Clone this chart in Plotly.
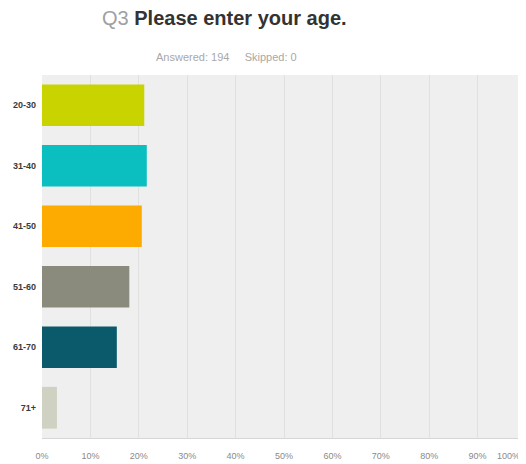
import plotly.graph_objects as go

categories = ["20-30", "31-40", "41-50", "51-60", "61-70", "71+"]
values = [21.13, 21.65, 20.62, 18.04, 15.46, 3.09]
colors = ["#c9d300", "#0bbfc1", "#fdab00", "#8a8b7c", "#0a5a6b", "#cfd2c2"]
tick_vals = [0, 10, 20, 30, 40, 50, 60, 70, 80, 90, 100]
tick_text = ["0%", "10%", "20%", "30%", "40%", "50%", "60%", "70%", "80%", "90%", ""]

FONT = "Liberation Sans, Arial, sans-serif"

# the page body has an 8px margin, so the figure is sized/offset to compensate
W, H = 518, 456
ML, MT, MB = 34, 67, 26

fig = go.Figure(go.Bar(
    x=values, y=categories, orientation="h",
    marker=dict(color=colors, line=dict(width=0)),
    width=0.69,
))

fig.update_layout(
    width=W, height=H,
    margin=dict(l=ML, r=0, t=MT, b=MB),
    paper_bgcolor="white",
    plot_bgcolor="#efefef",
    showlegend=False,
    font=dict(family=FONT),
    xaxis=dict(
        range=[0, 100], tickvals=tick_vals, ticktext=tick_text,
        showgrid=True, gridcolor="#e0e0e0", gridwidth=1,
        zeroline=False, showline=True, linecolor="#d6d6d6", linewidth=1,
        tickfont=dict(size=9, color="#8a8a8a"), ticks="",
        ticklabelstandoff=9, automargin=False, fixedrange=True,
    ),
    yaxis=dict(
        autorange="reversed", showgrid=False, zeroline=False,
        tickfont=dict(size=9, color="#3a3a3a", weight="bold"), ticks="",
        ticklabelstandoff=5, automargin=False,
    ),
    annotations=[
        dict(text="<span style='color:#a0a0a0;font-weight:normal'>Q3</span> <b>Please enter your age.</b>",
             x=0.378, y=10, xref="paper", yref="paper", showarrow=False,
             font=dict(size=20, color="#333333", family=FONT)),
        dict(text="Answered: 194&nbsp;&nbsp;&nbsp;&nbsp;&nbsp;Skipped: 0",
             x=0.382, y=49, xref="paper", yref="paper", showarrow=False,
             font=dict(size=11, color="#a8a8a8", family=FONT)),
        dict(text="100%", x=100, xref="x", xanchor="right", xshift=-4,
             y=0, yref="paper", yanchor="top", yshift=-11, showarrow=False,
             font=dict(size=9, color="#8a8a8a", family=FONT)),
    ],
)

# convert title annotation y positions from pixels to paper coordinates
plot_h = H - MT - MB
for ann, py in zip(fig.layout.annotations[:2], [10, 49]):
    ann.y = (H - MB - py) / plot_h
    ann.yanchor = "middle"

fig.write_html("out.html")
